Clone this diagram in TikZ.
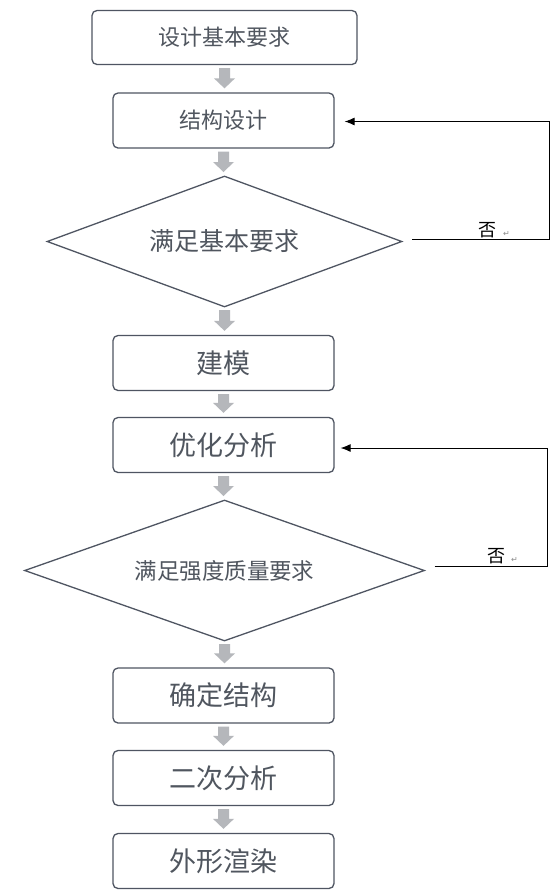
\documentclass[tikz,border=0pt]{standalone}
\usepackage{fontspec}
\setmainfont{Noto Sans CJK SC}
\newfontfamily\dejavu{DejaVu Sans}
\usetikzlibrary{shapes.geometric,calc,arrows.meta}
\definecolor{boxline}{HTML}{4F5562}
\definecolor{boxtext}{HTML}{50565F}
\definecolor{garrowcol}{HTML}{B5B7BB}
\definecolor{retcol}{HTML}{8A8A8A}
\newcommand{\gar}[2]{%
  \fill[garrowcol] let \p1=($#1+(0,3)$), \p2=($#2+(0,-4)$) in
  (\x1-5.5pt,\y1) -- (\x1+5.5pt,\y1) -- (\x1+5.5pt,\y2+10pt) -- (\x1+10.5pt,\y2+10pt)
  -- (\x1,\y2) -- (\x1-10.5pt,\y2+10pt) -- (\x1-5.5pt,\y2+10pt) -- cycle;}
\begin{document}
\begin{tikzpicture}[x=1pt,y=-1pt,
  box/.style={draw=boxline, line width=1.3pt, rounded corners=5pt,
    minimum width=221pt, minimum height=55pt, inner sep=0pt, text=boxtext,
    font=\fontsize{27}{30}\selectfont},
  smallbox/.style={box, font=\fontsize{22}{26}\selectfont},
  decision/.style={draw=boxline, line width=1.3pt, shape=diamond, inner sep=0pt,
    text=boxtext},
  fb/.style={draw=black, line width=0.9pt, -{Latex[length=10pt,width=8pt]}},
  nolabel/.style={inner sep=0pt, text=black, font=\fontsize{18}{20}\selectfont},
  retlabel/.style={inner sep=0pt, text=retcol, font=\dejavu\fontsize{8}{9}\selectfont}
]
\useasboundingbox[fill=white] (0,0) rectangle (555,895);

\node[smallbox, minimum width=265pt, minimum height=54pt] (b1) at (224.5,37.5) {设计基本要求};
\node[smallbox] (b2) at (223.5,120.5) {结构设计};
\node[decision, aspect=2.71, minimum width=355pt, minimum height=131pt,
  font=\fontsize{25}{28}\selectfont] (d1) at (224.5,241.5) {满足基本要求};
\node[box] (b3) at (223.5,363) {建模};
\node[box] (b4) at (223.5,445) {优化分析};
\node[decision, aspect=2.84, minimum width=400pt, minimum height=141pt,
  font=\fontsize{22.5}{26}\selectfont] (d2) at (224.5,570.5) {满足强度质量要求};
\node[box] (b5) at (223.5,695.5) {确定结构};
\node[box] (b6) at (223.5,778) {二次分析};
\node[box] (b7) at (223.5,861) {外形渲染};

% diamond tips
\coordinate (d1top) at ($(d1.center)+(0,-65.5)$);
\coordinate (d1bot) at ($(d1.center)+(0,65.5)$);
\coordinate (d1rt) at ($(d1.center)+(177.5,0)$);
\coordinate (d2top) at ($(d2.center)+(0,-70.5)$);
\coordinate (d2bot) at ($(d2.center)+(0,70.5)$);
\coordinate (d2rt) at ($(d2.center)+(200,0)$);

\gar{(b1.south)}{(b2.north)}
\gar{(b2.south)}{(d1top)}
\gar{(d1bot)}{(b3.north)}
\gar{(b3.south)}{(b4.north)}
\gar{(b4.south)}{(d2top)}
\gar{(d2bot)}{(b5.north)}
\gar{(b5.south)}{(b6.north)}
\gar{(b6.south)}{(b7.north)}

\coordinate (c1) at (549,239);
\draw[fb] ($(d1rt)+(10,-2.5)$) -- (c1) |- ($(b2.east)+(10,1)$);
\coordinate (c2) at (547,566);
\draw[fb] ($(d2rt)+(10,-4.5)$) -- (c2) |- ($(b4.east)+(6,3)$);

\node[nolabel] (n1) at (487.5,230) {否};
\node[retlabel] (r1) at (506.5,234) {↵};
\node[nolabel] (n2) at (496,556) {否};
\node[retlabel] (r2) at (514.5,560) {↵};
\end{tikzpicture}
\end{document}
